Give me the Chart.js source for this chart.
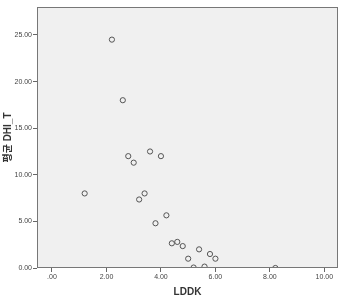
<!DOCTYPE html>
<html>
<head>
<meta charset="utf-8">
<script src="https://cdn.jsdelivr.net/npm/chart.js@4.4.1/dist/chart.umd.min.js"></script>
<style>
  html, body { margin: 0; padding: 0; background: #fff; }
  #wrap { width: 343px; height: 295px; position: relative; }
</style>
</head>
<body>
<div id="wrap"><canvas id="scatter"></canvas></div>
<script>
// data
const lddk = [2.2, 2.6, 2.8, 3.0, 3.6, 4.0, 1.2, 3.4, 3.2, 4.2, 3.8, 4.4, 4.6, 4.8, 5.4, 5.8, 6.0, 5.0, 5.2, 5.6, 8.2];
const dhiT = [24.5, 18.0, 12.0, 11.3, 12.5, 12.0, 8.0, 8.0, 7.35, 5.65, 4.8, 2.65, 2.8, 2.35, 2.0, 1.5, 1.0, 1.0, 0.05, 0.15, 0.0];
const xTicks = [0, 2, 4, 6, 8, 10];
const yTicks = [0, 5, 10, 15, 20, 25];

const points = lddk.map((x, i) => ({ x: x, y: dhiT[i] }));

// plot area background + frame
const plotFrame = {
    id: 'plotFrame',
    beforeDraw(chart) {
        const a = chart.chartArea;
        const c = chart.ctx;
        c.save();
        c.fillStyle = '#f0f0f0';
        c.fillRect(a.left, a.top, a.right - a.left, a.bottom - a.top);
        c.restore();
    },
    afterDraw(chart) {
        const a = chart.chartArea;
        const c = chart.ctx;
        c.save();
        c.strokeStyle = '#777';
        c.lineWidth = 1;
        c.strokeRect(a.left + 0.5, a.top + 0.5, a.right - a.left - 1, a.bottom - a.top - 1);
        c.restore();
    }
};

const tickFont = { family: "'Liberation Sans Narrow', 'Liberation Sans', sans-serif", size: 7 };
const titleFont = { family: "'Liberation Sans', 'Noto Sans CJK KR', sans-serif", size: 10, weight: 'bold' };

new Chart(document.getElementById('scatter'), {
    type: 'scatter',
    data: {
        datasets: [{
            data: points,
            pointStyle: 'circle',
            pointRadius: 2.6,
            pointBorderWidth: 1,
            pointBorderColor: '#555',
            pointBackgroundColor: 'rgba(0,0,0,0)'
        }]
    },
    options: {
        responsive: true,
        maintainAspectRatio: false,
        animation: false,
        layout: { padding: { top: 7, right: 4, left: 0, bottom: 0 } },
        plugins: { legend: { display: false }, tooltip: { enabled: false } },
        scales: {
            x: {
                type: 'linear',
                min: -0.55,
                max: 10.5,
                afterBuildTicks: s => { s.ticks = xTicks.map(v => ({ value: v })); },
                afterFit: s => { s.height = 27; },
                ticks: {
                    color: '#444',
                    font: tickFont,
                    padding: 1,
                    maxRotation: 0,
                    callback: v => (v === 0 ? '.00' : v.toFixed(2))
                },
                grid: { drawOnChartArea: false, drawTicks: true, tickLength: 4, color: '#666' },
                border: { display: false },
                title: { display: true, text: 'LDDK', color: '#333', font: titleFont, padding: { top: 0, bottom: -3 } }
            },
            y: {
                type: 'linear',
                min: 0,
                max: 28,
                afterBuildTicks: s => { s.ticks = yTicks.map(v => ({ value: v })); },
                afterFit: s => { s.width = 37; },
                ticks: {
                    color: '#444',
                    font: tickFont,
                    padding: 1,
                    callback: v => v.toFixed(2)
                },
                grid: { drawOnChartArea: false, drawTicks: true, tickLength: 4, color: '#666' },
                border: { display: false },
                title: { display: true, text: '평균 DHI_T', color: '#333', font: titleFont, padding: { top: 2, bottom: 0 } }
            }
        }
    },
    plugins: [plotFrame]
});
</script>
</body>
</html>
